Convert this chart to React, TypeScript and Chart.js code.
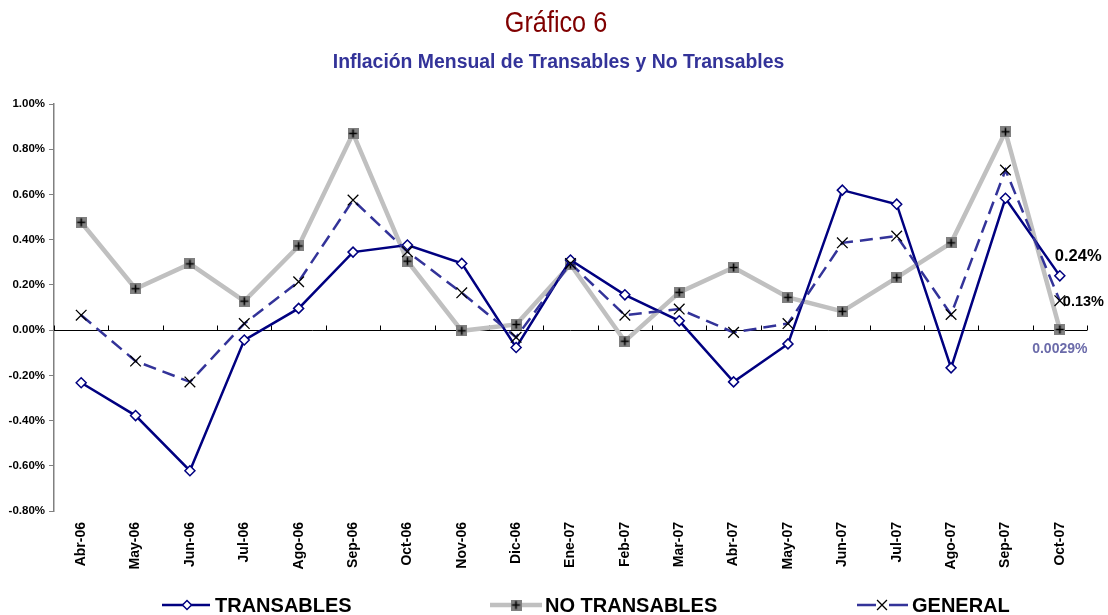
import React, { useEffect, useRef } from 'react';
import { Chart, registerables } from 'chart.js';

Chart.register(...registerables);

const CATEGORIES = ['Abr-06', 'May-06', 'Jun-06', 'Jul-06', 'Ago-06', 'Sep-06', 'Oct-06', 'Nov-06', 'Dic-06', 'Ene-07', 'Feb-07', 'Mar-07', 'Abr-07', 'May-07', 'Jun-07', 'Jul-07', 'Ago-07', 'Sep-07', 'Oct-07'];
const TRANSABLES = [-0.233, -0.378, -0.622, -0.044, 0.096, 0.345, 0.376, 0.295, -0.077, 0.31, 0.156, 0.041, -0.229, -0.061, 0.619, 0.557, -0.167, 0.583, 0.24];
const NO_TRANSABLES = [0.477, 0.183, 0.293, 0.128, 0.372, 0.87, 0.305, -0.003, 0.025, 0.29, -0.049, 0.167, 0.277, 0.145, 0.083, 0.232, 0.386, 0.877, 0.0029];
const GENERAL = [0.066, -0.137, -0.229, 0.029, 0.214, 0.575, 0.347, 0.165, -0.032, 0.295, 0.066, 0.093, -0.01, 0.029, 0.386, 0.416, 0.069, 0.708, 0.13];
const SERIES_NAMES = ['TRANSABLES', 'NO TRANSABLES', 'GENERAL'];
const END_LABELS = ['0.24%', '0.0029%', '0.13%'];
const Y_MIN = -0.8;
const Y_MAX = 1.0;
const Y_STEP = 0.2;
const TITLE = 'Gráfico 6';
const SUBTITLE = 'Inflación Mensual de Transables y No Transables';

const FONT = "'Liberation Sans', Arial, Helvetica, sans-serif";

function makePlusSquare(): HTMLCanvasElement {
  const c = document.createElement('canvas');
  c.width = 11;
  c.height = 11;
  const g = c.getContext('2d')!;
  g.fillStyle = '#808080';
  g.fillRect(0, 0, 11, 11);
  g.strokeStyle = '#000';
  g.lineWidth = 1.6;
  g.beginPath();
  g.moveTo(1.5, 5.5);
  g.lineTo(9.5, 5.5);
  g.moveTo(5.5, 1.5);
  g.lineTo(5.5, 9.5);
  g.stroke();
  return c;
}

function drawDiamond(ctx: CanvasRenderingContext2D, x: number, y: number, r: number) {
  ctx.save();
  ctx.beginPath();
  ctx.moveTo(x, y - r);
  ctx.lineTo(x + r, y);
  ctx.lineTo(x, y + r);
  ctx.lineTo(x - r, y);
  ctx.closePath();
  ctx.fillStyle = '#fff';
  ctx.fill();
  ctx.strokeStyle = '#000080';
  ctx.lineWidth = 1.5;
  ctx.stroke();
  ctx.restore();
}

function drawX(ctx: CanvasRenderingContext2D, x: number, y: number, r: number) {
  const o = r * Math.SQRT1_2;
  ctx.save();
  ctx.strokeStyle = '#000';
  ctx.lineWidth = 1.3;
  ctx.beginPath();
  ctx.moveTo(x - o, y - o);
  ctx.lineTo(x + o, y + o);
  ctx.moveTo(x - o, y + o);
  ctx.lineTo(x + o, y - o);
  ctx.stroke();
  ctx.restore();
}

export default function App() {
  const ref = useRef<HTMLCanvasElement>(null);

  useEffect(() => {
    const plus = makePlusSquare();

    const titlesPlugin = {
      id: 'titles',
      afterDraw(chart: any) {
        const { ctx } = chart;
        ctx.save();
        ctx.textAlign = 'center';
        ctx.textBaseline = 'alphabetic';
        ctx.fillStyle = '#800000';
        ctx.font = `normal 29px ${FONT}`;
        ctx.translate(556, 32);
        ctx.scale(0.87, 1);
        ctx.fillText(TITLE, 0, 0);
        ctx.restore();
        ctx.save();
        ctx.textAlign = 'center';
        ctx.textBaseline = 'alphabetic';
        ctx.fillStyle = '#333399';
        ctx.font = `bold 19.4px ${FONT}`;
        ctx.fillText(SUBTITLE, 558.5, 68);
        ctx.restore();
      },
    };

    const zeroLinePlugin = {
      id: 'zeroLine',
      beforeDatasetsDraw(chart: any) {
        const { ctx, chartArea } = chart;
        const xs = chart.scales.x;
        const ys = chart.scales.y;
        const y0 = Math.round(ys.getPixelForValue(0)) + 0.5;
        ctx.save();
        ctx.strokeStyle = '#000';
        ctx.lineWidth = 1;
        ctx.beginPath();
        ctx.moveTo(chartArea.left, y0);
        ctx.lineTo(chartArea.right, y0);
        const n = CATEGORIES.length;
        for (let i = 0; i <= n; i++) {
          let px: number;
          if (i === 0) px = chartArea.left;
          else if (i === n) px = chartArea.right;
          else px = (xs.getPixelForValue(i - 1) + xs.getPixelForValue(i)) / 2;
          const xx = Math.round(px) + 0.5;
          ctx.moveTo(xx, y0);
          ctx.lineTo(xx, y0 - 5);
        }
        ctx.stroke();
        ctx.restore();
      },
    };

    const endLabelsPlugin = {
      id: 'endLabels',
      afterDatasetsDraw(chart: any) {
        const { ctx } = chart;
        const last = CATEGORIES.length - 1;
        const p0 = chart.getDatasetMeta(0).data[last];
        const p1 = chart.getDatasetMeta(1).data[last];
        const p2 = chart.getDatasetMeta(2).data[last];
        ctx.save();
        ctx.textBaseline = 'middle';
        ctx.textAlign = 'left';
        ctx.fillStyle = '#000';
        ctx.font = `bold 16.5px ${FONT}`;
        ctx.fillText(END_LABELS[0], p0.x - 5, p0.y - 19);
        ctx.font = `bold 14.5px ${FONT}`;
        ctx.fillText(END_LABELS[2], p2.x + 3, p2.y + 1);
        ctx.textAlign = 'center';
        ctx.fillStyle = '#6B6BAA';
        ctx.font = `bold 14px ${FONT}`;
        ctx.fillText(END_LABELS[1], p1.x, p1.y + 20);
        ctx.restore();
      },
    };

    const legendPlugin = {
      id: 'customLegend',
      afterDraw(chart: any) {
        const { ctx } = chart;
        const ly = 605;
        const items = [
          { from: 162, to: 210, m: 187, t: 215 },
          { from: 490, to: 542, m: 516, t: 545 },
          { from: 857, to: 908, m: 882, t: 912 },
        ];
        ctx.save();
        chart.data.datasets.forEach((ds: any, i: number) => {
          const it = items[i];
          ctx.strokeStyle = ds.borderColor;
          ctx.lineWidth = ds.borderWidth;
          ctx.beginPath();
          if (i === 2) {
            ctx.moveTo(it.from, ly);
            ctx.lineTo(it.m - 6, ly);
            ctx.moveTo(it.m + 7, ly);
            ctx.lineTo(it.to, ly);
          } else {
            ctx.moveTo(it.from, ly);
            ctx.lineTo(it.to, ly);
          }
          ctx.stroke();
          if (i === 0) drawDiamond(ctx, it.m, ly, 4.5);
          if (i === 1) ctx.drawImage(plus, it.m - 5.5, ly - 5.5);
          if (i === 2) drawX(ctx, it.m, ly, 7);
          ctx.fillStyle = '#000';
          ctx.font = `bold 20px ${FONT}`;
          ctx.textAlign = 'left';
          ctx.textBaseline = 'alphabetic';
          ctx.fillText(SERIES_NAMES[i], it.t, 612);
        });
        ctx.restore();
      },
    };

    const chart = new Chart(ref.current!, {
      type: 'line',
      data: {
        labels: CATEGORIES,
        datasets: [
          {
            label: SERIES_NAMES[0],
            data: TRANSABLES,
            borderColor: '#000080',
            borderWidth: 2.5,
            pointStyle: 'rectRot',
            pointRadius: 5,
            pointHoverRadius: 5,
            pointBackgroundColor: '#fff',
            pointBorderColor: '#000080',
            pointBorderWidth: 1.5,
            tension: 0,
            order: 1,
          },
          {
            label: SERIES_NAMES[1],
            data: NO_TRANSABLES,
            borderColor: '#C0C0C0',
            borderWidth: 4.5,
            pointStyle: plus as any,
            pointRadius: 5,
            pointHoverRadius: 5,
            tension: 0,
            order: 2,
          },
          {
            label: SERIES_NAMES[2],
            data: GENERAL,
            borderColor: '#333399',
            borderWidth: 2.5,
            borderDash: [13, 7],
            pointStyle: 'crossRot',
            pointRadius: 7.5,
            pointHoverRadius: 7.5,
            pointBorderColor: '#000',
            pointBackgroundColor: '#000',
            pointBorderWidth: 1.3,
            tension: 0,
            order: 0,
          },
        ],
      },
      options: {
        responsive: false,
        animation: false,
        events: [],
        devicePixelRatio: 1,
        layout: { padding: { left: 0, right: 21, top: 104, bottom: 0 } },
        plugins: {
          legend: { display: false },
          tooltip: { enabled: false },
          title: { display: false },
          subtitle: { display: false },
        },
        scales: {
          x: {
            offset: true,
            grid: { display: false, drawTicks: false },
            border: { display: false },
            ticks: {
              autoSkip: false,
              maxRotation: 90,
              minRotation: 90,
              padding: 11,
              color: '#000',
              font: { family: FONT, size: 14, weight: 'bold' },
            },
            afterFit: (s: any) => {
              s.height = 104;
            },
          },
          y: {
            min: Y_MIN,
            max: Y_MAX,
            ticks: {
              stepSize: Y_STEP,
              padding: 4,
              color: '#000',
              font: { family: FONT, size: 11.5, weight: 'bold' },
              callback: (v: any) => {
                const n = Math.abs(Number(v)) < 1e-9 ? 0 : Number(v);
                return n.toFixed(2) + '%';
              },
            },
            grid: { display: true, drawOnChartArea: false, drawTicks: true, tickLength: 5, color: '#808080' },
            border: { display: true, color: '#808080', width: 1.5 },
            afterFit: (s: any) => {
              s.width = 54;
            },
          },
        },
      } as any,
      plugins: [zeroLinePlugin, endLabelsPlugin, legendPlugin, titlesPlugin],
    });

    return () => chart.destroy();
  }, []);

  return (
    <canvas
      ref={ref}
      width={1108}
      height={615}
      style={{ position: 'absolute', left: 0, top: 0, width: 1108, height: 615, background: '#fff' }}
    />
  );
}
